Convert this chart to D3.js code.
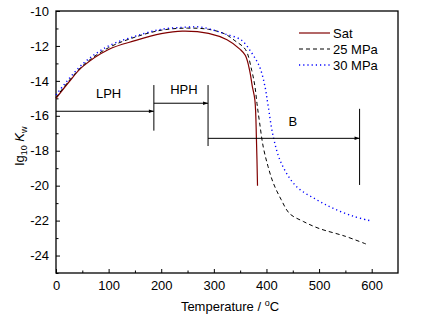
<!DOCTYPE html>
<html><head><meta charset="utf-8">
<script src="https://cdn.jsdelivr.net/npm/d3@7"></script>
<style>body{margin:0;background:#fff}svg{display:block}text{font-family:"Liberation Sans",Arial,sans-serif}</style>
</head><body><svg id="c" width="428" height="324"></svg>
<script>
const xTicks = [0,100,200,300,400,500,600];
const yTicks = [-10,-12,-14,-16,-18,-20,-22,-24];
const satT = [0,25,50,100,150,200,240,290,325,350,360,368,373,378,381,383];
const satK = [-15.0,-14.05,-13.2,-12.2,-11.7,-11.3,-11.15,-11.28,-11.65,-12.2,-12.55,-13.4,-14.3,-15.1,-17.4,-20.0];
const p25T = [0,50,100,150,200,250,290,320,340,360,372,378,382,387,394,403,413,428,444,470,500,550,590];
const p25K = [-14.95,-13.15,-12.1,-11.5,-11.1,-10.98,-11.05,-11.3,-11.7,-12.2,-13.4,-14.3,-15.3,-16.4,-17.8,-18.9,-19.85,-20.8,-21.6,-22.05,-22.45,-22.9,-23.35];
const p30T = [0,50,100,150,200,250,275,300,320,352,372,387,397,403,413,428,457,495,527,565,596];
const p30K = [-14.8,-13.05,-12.0,-11.45,-11.05,-10.92,-10.92,-11.1,-11.3,-11.66,-12.4,-13.2,-14.3,-15.4,-17.2,-18.7,-20.05,-20.8,-21.3,-21.75,-22.0];
const seriesNames = ["Sat","25 MPa","30 MPa"];
// regions: label, start T, end T, arrow level, vertical line range
const regionLabels = ["LPH","HPH","B"];
const regionStart = [0,186,289];
const regionEnd = [186,289,577];
const regionLevel = [-15.74,-15.28,-17.29];
const regionBarTop = [-14.24,-14.24,-15.6];
const regionBarBot = [-16.85,-17.73,-19.96];
const regionLabelT = [100,243,450];
const regionLabelK = [-15.0,-14.75,-16.6];

const svg = d3.select("#c");
const m = {l:56, r:398, t:11, b:273};
const x = d3.scaleLinear().domain([0,650]).range([m.l,m.r]);
const y = d3.scaleLinear().domain([-25,-10]).range([m.b,m.t]);

// axes
const xAxis = svg.append("g").attr("transform",`translate(0,${m.b})`)
  .call(d3.axisBottom(x).tickValues(xTicks).tickSize(-4).tickPadding(8).tickFormat(d3.format("d")));
const xMinor = svg.append("g").attr("transform",`translate(0,${m.b})`)
  .call(d3.axisBottom(x).tickValues(d3.range(50,650,100)).tickSize(-2.5).tickFormat(""));
const yAxis = svg.append("g").attr("transform",`translate(${m.l},0)`)
  .call(d3.axisLeft(y).tickValues(yTicks).tickSize(-4).tickPadding(7).tickFormat(d=>d));
const yMinor = svg.append("g").attr("transform",`translate(${m.l},0)`)
  .call(d3.axisLeft(y).tickValues(d3.range(-25,-10,2)).tickSize(-2.5).tickFormat(""));
svg.selectAll(".domain").remove();
svg.selectAll(".tick line").attr("stroke","#000").attr("stroke-width",1);
svg.selectAll(".tick text").attr("font-size",13).attr("fill","#000")
  .text(function(){return this.textContent.replace("\u2212","-");});
svg.append("rect").attr("x",m.l).attr("y",m.t).attr("width",m.r-m.l).attr("height",m.b-m.t)
  .attr("fill","none").attr("stroke","#000").attr("stroke-width",1.3);

// curves
const line = d3.line().x(d=>x(d[0])).y(d=>y(d[1])).curve(d3.curveMonotoneX);
const lineY = d3.line().x(d=>x(d[0])).y(d=>y(d[1])).curve(d3.curveCatmullRom.alpha(0.5));
const styles = [
  {color:"#800000", dash:null, w:1.2},
  {color:"#000", dash:"4,3", w:1},
  {color:"#0000ff", dash:"1.2,3", w:1.4}
];
const data = [d3.zip(satT,satK), d3.zip(p25T,p25K), d3.zip(p30T,p30K)];
data.forEach((d,i)=>{
  svg.append("path").attr("d",lineY(d)).attr("fill","none")
    .attr("stroke",styles[i].color).attr("stroke-width",styles[i].w)
    .attr("stroke-dasharray",styles[i].dash);
});

// legend
const lg = svg.append("g");
seriesNames.forEach((n,i)=>{
  const yy = 33 + i*16;
  lg.append("line").attr("x1",299).attr("x2",330).attr("y1",yy).attr("y2",yy)
    .attr("stroke",styles[i].color).attr("stroke-width",styles[i].w).attr("stroke-dasharray",styles[i].dash);
  lg.append("text").attr("x",333).attr("y",yy+5).attr("font-size",13).text(n);
});

// region annotations
svg.append("defs").append("marker").attr("id","arr").attr("viewBox","0 0 10 10")
  .attr("refX",10).attr("refY",5).attr("markerWidth",6).attr("markerHeight",5).attr("orient","auto")
  .append("path").attr("d","M0,1.5L10,5L0,8.5Z").attr("fill","#000");
regionLabels.forEach((lab,i)=>{
  svg.append("line").attr("x1",x(regionStart[i])).attr("x2",x(regionEnd[i]))
    .attr("y1",y(regionLevel[i])).attr("y2",y(regionLevel[i]))
    .attr("stroke","#000").attr("stroke-width",1).attr("marker-end","url(#arr)");
  svg.append("line").attr("x1",x(regionEnd[i])).attr("x2",x(regionEnd[i]))
    .attr("y1",y(regionBarTop[i])).attr("y2",y(regionBarBot[i]))
    .attr("stroke","#000").attr("stroke-width",1);
  svg.append("text").attr("x",x(regionLabelT[i])).attr("y",y(regionLabelK[i]))
    .attr("text-anchor","middle").attr("font-size",13).text(lab);
});

// axis titles
svg.append("text").attr("x",(m.l+m.r)/2+3).attr("y",311).attr("text-anchor","middle").attr("font-size",13)
  .html('Temperature / <tspan dy="-5" font-size="9">o</tspan><tspan dy="5">C</tspan>');
svg.append("text").attr("transform","translate(24,146) rotate(-90)").attr("text-anchor","middle").attr("font-size",13)
  .html('lg<tspan dy="3" font-size="9">10</tspan><tspan dy="-3"> </tspan><tspan font-style="italic">K</tspan><tspan dy="3" font-size="9">w</tspan>');
</script></body></html>
